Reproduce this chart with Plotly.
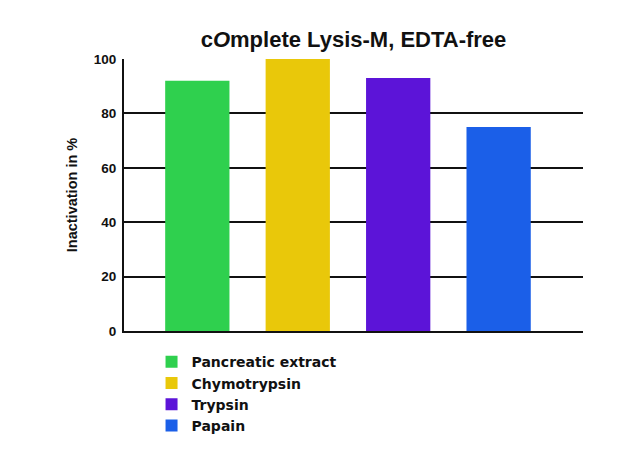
import plotly.graph_objects as go

categories = ["Pancreatic extract", "Chymotrypsin", "Trypsin", "Papain"]
values = [92, 100, 93, 75]
colors = ["#2fd04e", "#e9c80a", "#5c14d8", "#1b5fe8"]
y_ticks = [0, 20, 40, 60, 80, 100]

fig = go.Figure()
for i, (cat, val, col) in enumerate(zip(categories, values, colors)):
    fig.add_trace(go.Bar(
        x=[i], y=[val], name=cat, marker=dict(color=col, line=dict(width=0)),
        width=0.64, showlegend=True,
    ))

font_family = "Liberation Sans, Arial, sans-serif"
fig.update_layout(
    width=640, height=456,
    margin=dict(l=116, r=65, t=51, b=133, autoexpand=False),
    paper_bgcolor="white", plot_bgcolor="white",
    title=dict(text="<b>c<i>O</i>mplete Lysis-M, EDTA-free</b>", x=0.5, xref="paper",
               xanchor="center", y=0.932, yanchor="middle",
               font=dict(family=font_family, size=22, color="#111")),
    font=dict(family=font_family, color="#111"),
    barmode="overlay",
    showlegend=True,
    legend=dict(x=0.06, xanchor="left", y=-0.056, yanchor="top",
                font=dict(family="DejaVu Sans, sans-serif", size=14, color="#111", weight="bold"),
                bgcolor="rgba(0,0,0,0)", traceorder="normal", tracegroupgap=0),
    xaxis=dict(range=[-0.73, 3.84], showticklabels=False, showgrid=False, zeroline=False,
               showline=True, linecolor="#111", linewidth=2, ticks=""),
    yaxis=dict(range=[0, 100], tickvals=y_ticks, ticktext=[str(t) for t in y_ticks],
               showgrid=True, gridcolor="#111", gridwidth=2, zeroline=False,
               showline=True, linecolor="#111", linewidth=2, ticks="",
               ticklabelstandoff=3,
               tickfont=dict(family=font_family, size=13.5, color="#111", weight="bold"),
               title=dict(text="<b>Inactivation in %</b>", standoff=13,
                          font=dict(family=font_family, size=14.5, color="#111"))),
)

fig.write_html("out.html")
